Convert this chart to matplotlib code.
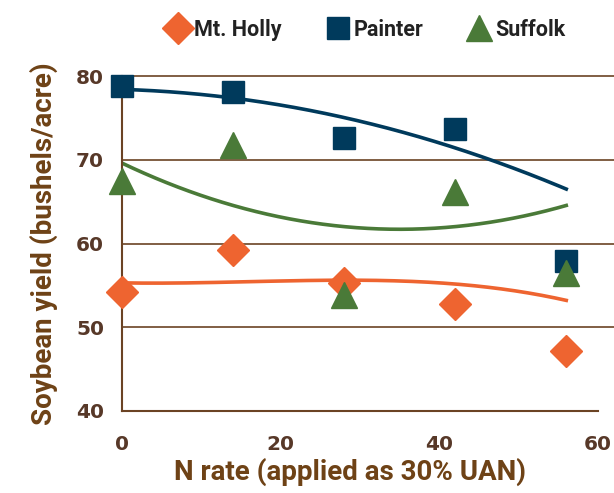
import numpy as np
import matplotlib
matplotlib.use("Agg")
import matplotlib.pyplot as plt
from matplotlib import font_manager

#%% data
n_rate = [0, 14, 28, 42, 56]
mt_holly = [54.2, 59.2, 55.3, 52.8, 47.2]
painter = [78.8, 78.1, 72.6, 73.7, 57.9]
suffolk = [67.5, 71.8, 53.9, 66.2, 56.5]

# trend line coefficients (highest power first), as drawn on the chart
mt_holly_fit = [-0.0000492, 0.00239, -0.0169, 55.3]
painter_fit = [-0.0033, -0.0277, 78.4]
suffolk_fit = [0.00645, -0.4515, 69.6]
fit_range = [0, 56]

xticks = [0, 20, 40, 60]
yticks = [40, 50, 60, 70, 80]

#%% fonts
installed = {f.name for f in font_manager.fontManager.ttflist}
def pick(names):
    for n in names:
        if n in installed:
            return n
    return "DejaVu Sans"

label_font = pick(["Liberation Sans Narrow", "Roboto", "Liberation Sans"])
tick_font = "DejaVu Sans"

orange = "#EE6430"
navy = "#003A5C"
green = "#4A7A38"
brown = "#6B4324"
tick_col = "#573828"
label_col = "#6E4216"

#%% figure
fig = plt.figure(figsize=(6.14, 4.93), dpi=100)
ax = fig.add_axes([122/614, 82/493, 476/614, 335/493])
ax.set_xlim(0, 60)
ax.set_ylim(40, 80)

xx = np.linspace(fit_range[0], fit_range[1], 200)
ax.plot(xx, np.polyval(painter_fit, xx), color=navy, lw=2.6, zorder=2)
ax.plot(xx, np.polyval(suffolk_fit, xx), color=green, lw=2.6, zorder=2)
ax.plot(xx, np.polyval(mt_holly_fit, xx), color=orange, lw=2.6, zorder=2)

ax.plot(n_rate, mt_holly, ls="none", marker="D", ms=16, color=orange,
        label="Mt. Holly", zorder=3, clip_on=False)
ax.plot(n_rate, painter, ls="none", marker="s", ms=16.5, color=navy,
        label="Painter", zorder=3, clip_on=False)
ax.plot(n_rate, suffolk, ls="none", marker="^", ms=19, color=green,
        label="Suffolk", zorder=4, clip_on=False)

# gridlines run past the axis to the figure edge
for y in yticks[1:]:
    ax.axhline(y, xmin=0, xmax=492/476, color=brown, lw=1.2, clip_on=False, zorder=1)

for s in ["top", "right"]:
    ax.spines[s].set_visible(False)
for s in ["left", "bottom"]:
    ax.spines[s].set_color(brown)
    ax.spines[s].set_linewidth(1.5)

ax.set_xticks(xticks)
ax.set_yticks(yticks)
ax.tick_params(length=0, colors=tick_col, labelsize=14.5)
ax.tick_params(axis="x", pad=17)
ax.tick_params(axis="y", pad=13)
for t in ax.get_xticklabels() + ax.get_yticklabels():
    t.set_fontfamily(tick_font)
    t.set_fontweight("semibold")

ax.set_xlabel("N rate (applied as 30% UAN)", color=label_col, fontsize=20,
              fontweight="semibold", fontfamily=label_font, labelpad=3)
ax.xaxis.label.set_x(0.48)
ax.set_ylabel("Soybean yield (bushels/acre)", color=label_col, fontsize=20,
              fontweight="bold", fontfamily=label_font, labelpad=13)

leg = fig.legend(loc="center", bbox_to_anchor=(0.595, 0.94), ncol=3, frameon=False,
                 handletextpad=0.15, columnspacing=2.0, handlelength=1.2,
                 prop={"family": label_font, "weight": "bold", "size": 15.5})
for t in leg.get_texts():
    t.set_color("#222222")

fig.savefig("out.png", dpi=100)
